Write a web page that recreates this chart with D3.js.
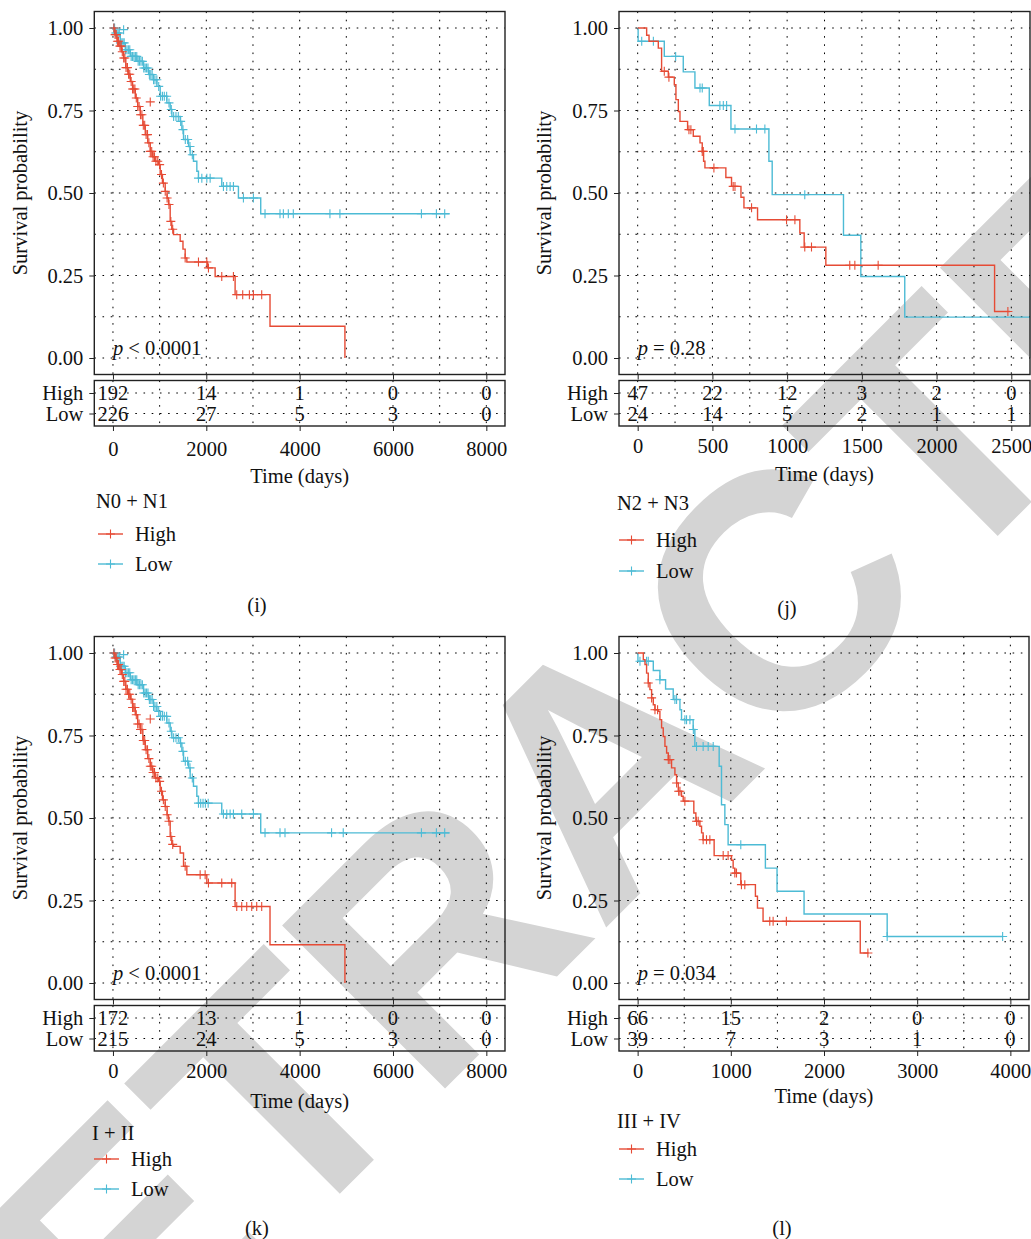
<!DOCTYPE html>
<html>
<head>
<meta charset="utf-8">
<script src="https://cdn.jsdelivr.net/npm/d3@7"></script>
<style>
  body { margin: 0; background: #fff; }
  svg { display: block; font-family: "Liberation Serif", "DejaVu Serif", serif; }
</style>
</head>
<body>
<svg id="fig" width="1031" height="1239"></svg>
<script>
const red = "#E64B35";
const blue = "#4DBBD5";
const groups = ["High", "Low"];

// ---- (i) N0 + N1 ----
const iTicks = [0, 2000, 4000, 6000, 8000];
const iHighSteps = [[0,1],[40,0.98],[86,0.96],[130,0.945],[180,0.928],[228,0.909],[275,0.88],[320,0.86],[371,0.838],[420,0.815],[478,0.788],[530,0.762],[585,0.737],[640,0.705],[692,0.677],[745,0.652],[799,0.626],[850,0.61],[905,0.596],[977,0.586],[1012,0.556],[1060,0.53],[1119,0.505],[1160,0.485],[1191,0.465],[1226,0.414],[1260,0.39],[1298,0.374],[1440,0.354],[1500,0.33],[1547,0.303],[1583,0.291],[2025,0.273],[2189,0.247],[2617,0.192],[3365,0.096],[4970,0]];
const iLowSteps = [[0,1],[50,0.985],[157,0.955],[264,0.934],[371,0.914],[513,0.899],[656,0.879],[763,0.859],[870,0.843],[941,0.823],[1012,0.793],[1155,0.773],[1226,0.753],[1262,0.732],[1440,0.717],[1476,0.692],[1512,0.662],[1619,0.641],[1654,0.616],[1725,0.596],[1797,0.566],[1832,0.545],[2331,0.52],[2688,0.485],[3166,0.437],[7216,0.437]];
const iHighCensor = [20,45,70,95,120,150,175,200,230,255,280,310,335,360,390,420,445,470,500,530,560,590,620,650,680,710,740,770,800,830,860,890,920,960,1000,1040,1080,1120,1160,1200,1240,1280,1547,1832,2011,2046,2331,2581,2652,2780,2923,3009,3187];
const iLowCensor = [15,35,60,85,110,135,160,190,215,240,270,300,330,360,390,420,450,480,510,540,570,600,630,660,690,720,750,780,810,840,870,900,940,980,1020,1060,1100,1150,1200,1250,1300,1350,1400,1450,1500,1550,1600,1650,1700,1832,1904,2011,2082,2367,2438,2510,2581,2795,3009,3258,3579,3651,3757,3864,4649,4863,6609,6930,7108];
const iHighStray = [[799, 0.776]];
const iLowStray = [[228, 0.995]];
const iRiskHigh = [192, 14, 1, 0, 0];
const iRiskLow = [226, 27, 5, 3, 0];

// ---- (j) N2 + N3 ----
const jTicks = [0, 500, 1000, 1500, 2000, 2500];
const jHighSteps = [[0,1],[60,0.978],[76,0.96],[138,0.939],[160,0.869],[205,0.851],[245,0.828],[256,0.783],[272,0.747],[283,0.717],[334,0.692],[372,0.672],[417,0.652],[432,0.626],[441,0.596],[450,0.576],[590,0.547],[628,0.52],[691,0.487],[711,0.455],[802,0.419],[1085,0.379],[1114,0.336],[1259,0.281],[2388,0.141],[2490,0.141]];
const jLowSteps = [[0,1],[3,0.96],[178,0.914],[305,0.867],[383,0.818],[479,0.765],[624,0.694],[878,0.596],[900,0.495],[1377,0.372],[1493,0.247],[1787,0.124],[2625,0.124]];
const jHighCensor = [178,209,343,356,432,439,510,639,651,762,996,1052,1118,1163,1419,1453,1609,2477];
const jLowCensor = [27,105,254,417,432,550,573,595,651,795,851,1118];
const jRiskHigh = [47, 22, 12, 3, 2, 0];
const jRiskLow = [24, 14, 5, 2, 1, 1];

// ---- (k) I + II ----
const kTicks = [0, 2000, 4000, 6000, 8000];
const kHighSteps = [[0,1],[40,0.985],[86,0.965],[130,0.95],[180,0.935],[228,0.914],[275,0.89],[320,0.875],[371,0.86],[420,0.835],[478,0.813],[530,0.785],[585,0.768],[640,0.735],[692,0.707],[745,0.68],[799,0.657],[850,0.638],[905,0.621],[977,0.611],[1012,0.581],[1060,0.555],[1119,0.535],[1160,0.51],[1191,0.49],[1226,0.444],[1260,0.42],[1298,0.414],[1440,0.394],[1512,0.354],[1583,0.328],[2011,0.303],[2617,0.232],[3365,0.116],[4970,0]];
const kLowSteps = [[0,1],[50,0.988],[157,0.96],[264,0.94],[371,0.919],[513,0.904],[656,0.879],[763,0.859],[870,0.838],[941,0.823],[1012,0.808],[1155,0.788],[1226,0.763],[1262,0.743],[1440,0.727],[1476,0.702],[1512,0.672],[1619,0.652],[1654,0.621],[1725,0.596],[1797,0.566],[1832,0.545],[2331,0.512],[3166,0.455],[7216,0.455]];
const kHighCensor = [20,45,70,95,120,150,175,200,230,255,280,310,335,360,390,420,445,470,500,530,560,590,620,650,680,710,740,770,800,830,860,890,920,960,1000,1040,1080,1120,1160,1200,1240,1280,1547,1868,1975,2046,2331,2545,2652,2759,2866,2973,3080,3187];
const kLowCensor = [15,35,60,85,110,135,160,190,215,240,270,300,330,360,390,420,450,480,510,540,570,600,630,660,690,720,750,780,810,840,870,900,940,980,1020,1060,1100,1150,1200,1250,1300,1350,1400,1450,1500,1550,1600,1650,1700,1832,1880,1930,1980,2040,2367,2438,2510,2581,2759,3009,3258,3579,3686,4684,4934,6609,6930,7108];
const kHighStray = [[799, 0.8]];
const kLowStray = [[228, 0.995]];
const kRiskHigh = [172, 13, 1, 0, 0];
const kRiskLow = [215, 24, 5, 3, 0];

// ---- (l) III + IV ----
const lTicks = [0, 1000, 2000, 3000, 4000];
const lHighSteps = [[0,1],[61,0.98],[79,0.965],[96,0.939],[114,0.909],[132,0.889],[150,0.864],[168,0.843],[186,0.828],[221,0.823],[239,0.798],[257,0.773],[275,0.747],[293,0.717],[311,0.697],[329,0.677],[364,0.652],[400,0.631],[418,0.606],[436,0.581],[471,0.566],[489,0.551],[603,0.515],[625,0.49],[668,0.475],[686,0.455],[703,0.434],[821,0.386],[1007,0.372],[1025,0.348],[1043,0.333],[1107,0.298],[1264,0.263],[1286,0.227],[1346,0.187],[2389,0.091],[2478,0.091]];
const lLowSteps = [[0,1],[3,0.975],[168,0.947],[239,0.919],[300,0.891],[382,0.859],[454,0.828],[471,0.798],[596,0.768],[614,0.717],[875,0.657],[900,0.54],[936,0.48],[971,0.419],[1371,0.348],[1496,0.278],[1786,0.209],[2678,0.141],[3917,0.141]];
const lHighCensor = [114,150,186,214,329,346,418,440,454,507,632,650,703,739,775,918,971,1043,1061,1114,1150,1418,1454,1596,2471];
const lLowCensor = [25,96,114,239,400,418,507,525,561,598,632,703,757,811,1107,2678,3917];
const lRiskHigh = [66, 15, 2, 0, 0];
const lRiskLow = [39, 7, 3, 1, 0];

const panels = [
  { tag: "(i)", title: "N0 + N1", p: "< 0.0001", ticks: iTicks,
    high: iHighSteps, low: iLowSteps, highC: iHighCensor, lowC: iLowCensor,
    highS: iHighStray, lowS: iLowStray, riskHigh: iRiskHigh, riskLow: iRiskLow,
    L: { left: 94.3, right: 505, top: 11.5, ylab: 27, tickBase: 456, timeBase: 483,
         lx: 98, titleBase: 508, leg: [534, 564], tagX: 257, tagBase: 612 } },
  { tag: "(j)", title: "N2 + N3", p: "= 0.28", ticks: jTicks,
    high: jHighSteps, low: jLowSteps, highC: jHighCensor, lowC: jLowCensor,
    highS: [], lowS: [], riskHigh: jRiskHigh, riskLow: jRiskLow,
    L: { left: 619, right: 1030, top: 11.5, ylab: 551, tickBase: 453, timeBase: 481,
         lx: 619, titleBase: 510, leg: [540, 571], tagX: 787, tagBase: 615 } },
  { tag: "(k)", title: "I + II", p: "< 0.0001", ticks: kTicks,
    high: kHighSteps, low: kLowSteps, highC: kHighCensor, lowC: kLowCensor,
    highS: kHighStray, lowS: kLowStray, riskHigh: kRiskHigh, riskLow: kRiskLow,
    L: { left: 94.3, right: 505, top: 636.5, ylab: 27, tickBase: 1078, timeBase: 1108,
         lx: 94, titleBase: 1140, leg: [1159, 1189], tagX: 257, tagBase: 1235 } },
  { tag: "(l)", title: "III + IV", p: "= 0.034", ticks: lTicks,
    high: lHighSteps, low: lLowSteps, highC: lHighCensor, lowC: lLowCensor,
    highS: [], lowS: [], riskHigh: lRiskHigh, riskLow: lRiskLow,
    L: { left: 619, right: 1029, top: 636.5, ylab: 551, tickBase: 1078, timeBase: 1103,
         lx: 619, titleBase: 1128, leg: [1149, 1179], tagX: 782, tagBase: 1235 } },
];

const svg = d3.select("#fig");
const fs = 20.5;
const plotH = 363;

// watermark behind everything
svg.append("text")
  .attr("transform", "translate(601,763) rotate(-45)")
  .attr("y", 0.358 * 335)
  .attr("text-anchor", "middle")
  .attr("font-family", "Liberation Sans, Arial, sans-serif")
  .attr("font-weight", "bold")
  .attr("font-size", 335)
  .attr("fill", "#d4d4d4")
  .text("RETRACTED");

const crossPath = "M-4.5,0H4.5M0,-4.5V4.5";

function stepValue(steps, t) {
  let s = steps[0][1];
  for (const d of steps) if (d[0] <= t) s = d[1];
  return s;
}

panels.forEach(drawPanel);

function drawPanel(p) {
  const L = p.L;
  const xMax = p.ticks[p.ticks.length - 1];
  const x = d3.scaleLinear().domain([-0.05 * xMax, 1.05 * xMax]).range([L.left, L.right]);
  const y = d3.scaleLinear().domain([-0.05, 1.05]).range([L.top + plotH, L.top]);
  const g = svg.append("g");
  const step = p.ticks[1] - p.ticks[0];
  const xGrid = d3.range(0, xMax + 1, step / 2);
  const yGrid = d3.range(0, 1.0001, 0.125);
  const bottom = L.top + plotH;

  // grid
  const grid = g.append("g").attr("stroke", "#000").attr("stroke-width", 1)
    .attr("stroke-dasharray", "1.6,6.6");
  grid.selectAll(".v").data(xGrid).join("line")
    .attr("x1", x).attr("x2", x).attr("y1", L.top).attr("y2", bottom);
  grid.selectAll(".h").data(yGrid).join("line")
    .attr("x1", L.left).attr("x2", L.right).attr("y1", y).attr("y2", y);

  // curves
  const line = d3.line().x((d) => x(d[0])).y((d) => y(d[1])).curve(d3.curveStepAfter);
  [[p.low, p.lowC, p.lowS, blue], [p.high, p.highC, p.highS, red]].forEach(([steps, cens, stray, col]) => {
    g.append("path").attr("d", line(steps)).attr("fill", "none")
      .attr("stroke", col).attr("stroke-width", 1.4);
    const marks = cens.map((t) => [t, stepValue(steps, t)]).concat(stray);
    g.append("g").selectAll("path").data(marks).join("path")
      .attr("transform", (d) => `translate(${x(d[0])},${y(d[1])})`)
      .attr("d", crossPath).attr("stroke", col).attr("stroke-width", 1.1).attr("fill", "none");
  });

  // frame
  g.append("rect").attr("x", L.left).attr("y", L.top)
    .attr("width", L.right - L.left).attr("height", plotH)
    .attr("fill", "none").attr("stroke", "#222").attr("stroke-width", 1.4);

  // y axis
  g.append("g").attr("transform", `translate(${L.left},0)`)
    .call(d3.axisLeft(y).tickValues([0, 0.25, 0.5, 0.75, 1]).tickFormat(d3.format(".2f"))
      .tickSize(5).tickPadding(6))
    .call(styleAxis);

  // x ticks under the plot, no labels
  g.append("g").attr("transform", `translate(0,${bottom})`)
    .call(d3.axisBottom(x).tickValues(p.ticks).tickFormat("").tickSize(5))
    .call(styleAxis);

  // y label
  g.append("text")
    .attr("transform", `translate(${L.ylab},${y(0.5)}) rotate(-90)`)
    .attr("text-anchor", "middle").attr("font-size", fs).attr("fill", "#111")
    .text("Survival probability");

  // p value
  const pt = g.append("text").attr("x", x(0)).attr("y", y(0) - 3)
    .attr("font-size", fs).attr("fill", "#111");
  pt.append("tspan").attr("font-style", "italic").text("p");
  pt.append("tspan").text(" " + p.p);

  // risk table
  const rTop = bottom + 6, rH = 45.5;
  const ry = d3.scalePoint().domain(groups).range([rTop + 12.5, rTop + 33]);
  const rg = g.append("g");
  const rgrid = rg.append("g").attr("stroke", "#000").attr("stroke-width", 1)
    .attr("stroke-dasharray", "1.6,6.6");
  rgrid.selectAll(".v").data(xGrid).join("line")
    .attr("x1", x).attr("x2", x).attr("y1", rTop).attr("y2", rTop + rH);
  rgrid.selectAll(".h").data(groups).join("line")
    .attr("x1", L.left).attr("x2", L.right).attr("y1", ry).attr("y2", ry);
  [[p.riskHigh, "High"], [p.riskLow, "Low"]].forEach(([vals, key]) => {
    rg.append("g").selectAll("text").data(vals).join("text")
      .attr("x", (d, i) => x(p.ticks[i])).attr("y", ry(key) + 7)
      .attr("text-anchor", "middle").attr("font-size", fs).attr("fill", "#111")
      .text((d) => d);
  });
  rg.append("rect").attr("x", L.left).attr("y", rTop)
    .attr("width", L.right - L.left).attr("height", rH)
    .attr("fill", "none").attr("stroke", "#222").attr("stroke-width", 1.4);
  rg.append("g").attr("transform", `translate(${L.left},0)`)
    .call(d3.axisLeft(ry).tickSize(5).tickPadding(6))
    .call(styleAxis);
  const xa = rg.append("g").attr("transform", `translate(0,${rTop + rH})`)
    .call(d3.axisBottom(x).tickValues(p.ticks).tickFormat(d3.format("d")).tickSize(5))
    .call(styleAxis);
  xa.selectAll(".tick text").attr("dy", null).attr("y", L.tickBase - (rTop + rH));

  g.append("text").attr("x", (L.left + L.right) / 2).attr("y", L.timeBase)
    .attr("text-anchor", "middle").attr("font-size", fs).attr("fill", "#111")
    .text("Time (days)");

  // legend
  g.append("text").attr("x", L.lx - 2).attr("y", L.titleBase)
    .attr("font-size", fs).attr("fill", "#111").text(p.title);
  [[red, "High"], [blue, "Low"]].forEach(([col, name], i) => {
    const ly = L.leg[i];
    g.append("line").attr("x1", L.lx).attr("x2", L.lx + 25).attr("y1", ly).attr("y2", ly)
      .attr("stroke", col).attr("stroke-width", 1.4);
    g.append("path").attr("transform", `translate(${L.lx + 12.5},${ly})`)
      .attr("d", crossPath).attr("stroke", col).attr("stroke-width", 1.1);
    g.append("text").attr("x", L.lx + 37).attr("y", ly + 6.5)
      .attr("font-size", fs).attr("fill", "#111").text(name);
  });

  g.append("text").attr("x", L.tagX).attr("y", L.tagBase)
    .attr("text-anchor", "middle").attr("font-size", fs).attr("fill", "#111")
    .text(p.tag);
}

function styleAxis(sel) {
  sel.select(".domain").remove();
  sel.selectAll(".tick line").attr("stroke", "#222");
  sel.selectAll(".tick text").attr("font-size", fs).attr("fill", "#111")
    .attr("font-family", "Liberation Serif, DejaVu Serif, serif");
}
</script>
</body>
</html>
